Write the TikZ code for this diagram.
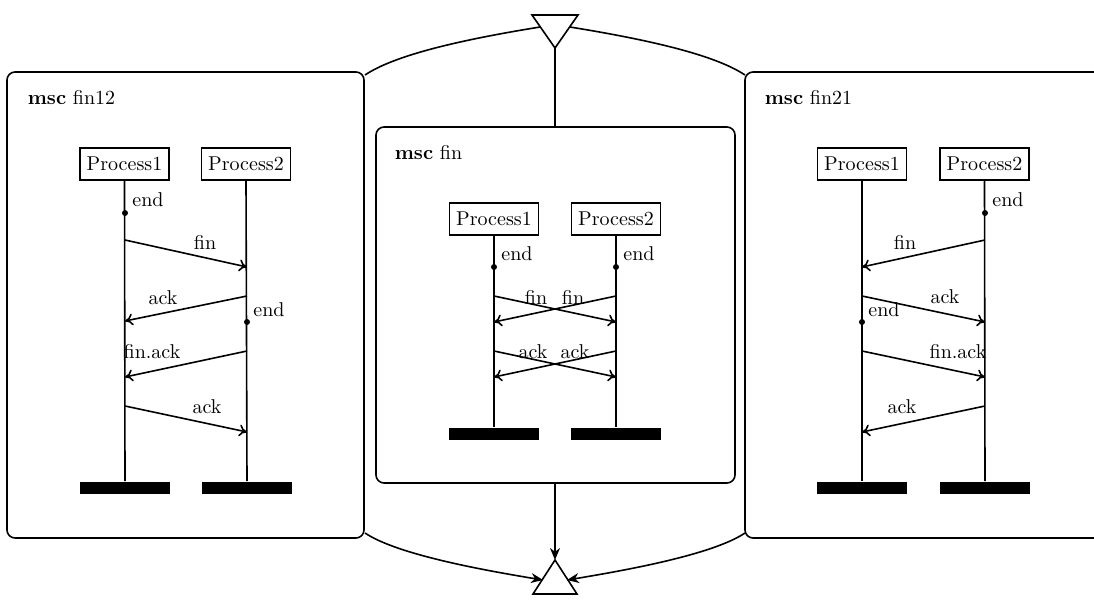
\documentclass[tikz,border=0pt]{standalone}
\usetikzlibrary{arrows.meta}
\begin{document}
\begin{tikzpicture}[x=0.5pt,y=-0.5pt, line width=0.8pt,
  proc/.style={draw, minimum width=44.5pt, minimum height=16pt, inner sep=1pt, line width=0.9pt},
  stopbar/.style={fill=black, minimum width=45pt, minimum height=6pt, inner sep=0pt},
  panel/.style={draw, rounded corners=4pt},
  msg/.style={-{To[length=4pt,width=6pt]}},
  lbl/.style={inner sep=0pt},
  evdot/.style={circle, fill=black, inner sep=0pt, minimum size=3pt},
  flow/.style={-{Stealth[length=6pt,width=5pt]}},
  ttl/.style={anchor=west, inner sep=0pt}]
\useasboundingbox (0,0) rectangle (1094,605);
\clip (0,0) rectangle (1094,605);

% ---------- panels ----------
\draw[panel] (7,72) rectangle (364,538);
\draw[panel] (376,127) rectangle (735,483);
\draw[panel] (745,72) rectangle (1120,538);
\coordinate (lpTR) at (365,75);
\coordinate (rpTL) at (745,75);
\coordinate (lpBR) at (365,533);
\coordinate (rpBL) at (745,533);
\coordinate (mpT) at (555,127);
\coordinate (mpB) at (555,483);

% ---------- triangles ----------
\coordinate (tL) at (532,15);
\coordinate (tR) at (578,15);
\coordinate (tA) at (555,48);
\draw (tL) -- (tR) -- (tA) -- cycle;
\coordinate (tLe) at (540,27);
\coordinate (tRe) at (570,27);
\coordinate (bA) at (555,560);
\coordinate (bL) at (533,594);
\coordinate (bR) at (577,594);
\draw (bL) -- (bR) -- (bA) -- cycle;
\coordinate (bLe) at (543,580);
\coordinate (bRe) at (567,580);

\draw (tA) -- (mpT);
\draw (tLe) .. controls (460,40) and (395,55) .. (lpTR);
\draw (tRe) .. controls (650,40) and (715,55) .. (rpTL);
\draw[flow] (mpB) -- (bA);
\draw[flow] (lpBR) .. controls (395,553) and (470,568) .. (bLe);
\draw[flow] (rpBL) .. controls (715,553) and (640,568) .. (bRe);

% ---------- left panel: fin12 ----------
\node[ttl] (t1) at (27,98) {\textbf{msc} fin12};
\node[proc] (a1) at (124.5,164) {Process1};
\node[proc] (a2) at (246,164) {Process2};
\node[stopbar] (as1) at (125,488) {};
\node[stopbar] (as2) at (247,488) {};
\draw (a1.south) -- (as1.north);
\draw (a2.south) -- (as2.north);
\node[evdot] (ae1) at (125,213) {};
\node[lbl] at (148,200) {end};
\coordinate (am1s) at (125,240); \coordinate (am1e) at (247,267);
\draw[msg] (am1s) -- (am1e);
\node[lbl] at (205,242) {fin};
\coordinate (am2s) at (247,296); \coordinate (am2e) at (125,321);
\draw[msg] (am2s) -- (am2e);
\node[lbl] at (163,298) {ack};
\node[evdot] (ae2) at (247,322) {};
\node[lbl] at (269,310) {end};
\coordinate (am3s) at (247,351); \coordinate (am3e) at (125,377);
\draw[msg] (am3s) -- (am3e);
\node[lbl] at (152,352) {fin.ack};
\coordinate (am4s) at (125,406); \coordinate (am4e) at (247,432);
\draw[msg] (am4s) -- (am4e);
\node[lbl] at (207,407) {ack};

% ---------- middle panel: fin ----------
\node[ttl] (t2) at (394,153) {\textbf{msc} fin};
\node[proc] (b1) at (494,219) {Process1};
\node[proc] (b2) at (616,219) {Process2};
\node[stopbar] (bs1) at (494,433.5) {};
\node[stopbar] (bs2) at (616,433.5) {};
\draw (b1.south) -- (bs1.north);
\draw (b2.south) -- (bs2.north);
\node[evdot] (be1) at (494,267) {};
\node[lbl] at (517,254) {end};
\node[evdot] (be2) at (616,267) {};
\node[lbl] at (639,254) {end};
\coordinate (bm1s) at (494,296); \coordinate (bm1e) at (616,322);
\coordinate (bm2s) at (616,296); \coordinate (bm2e) at (494,322);
\draw[msg] (bm1s) -- (bm1e);
\draw[msg] (bm2s) -- (bm2e);
\node[lbl] at (536,297) {fin};
\node[lbl] at (573,297) {fin};
\coordinate (bm3s) at (494,351); \coordinate (bm3e) at (616,377);
\coordinate (bm4s) at (616,351); \coordinate (bm4e) at (494,377);
\draw[msg] (bm3s) -- (bm3e);
\draw[msg] (bm4s) -- (bm4e);
\node[lbl] at (533,352) {ack};
\node[lbl] at (575,352) {ack};

% ---------- right panel: fin21 ----------
\node[ttl] (t3) at (764,98) {\textbf{msc} fin21};
\node[proc] (c1) at (862,164) {Process1};
\node[proc] (c2) at (984.5,164) {Process2};
\node[stopbar] (cs1) at (862,488) {};
\node[stopbar] (cs2) at (985,488) {};
\draw (c1.south) -- (cs1.north);
\draw (c2.south) -- (cs2.north);
\node[evdot] (ce1) at (985,213) {};
\node[lbl] at (1008,200) {end};
\coordinate (cm1s) at (985,240); \coordinate (cm1e) at (862,267);
\draw[msg] (cm1s) -- (cm1e);
\node[lbl] at (905,242) {fin};
\coordinate (cm2s) at (862,296); \coordinate (cm2e) at (985,322);
\draw[msg] (cm2s) -- (cm2e);
\node[lbl] at (945,297) {ack};
\node[evdot] (ce2) at (862,322) {};
\node[lbl] at (884,310) {end};
\coordinate (cm3s) at (862,351); \coordinate (cm3e) at (985,377);
\draw[msg] (cm3s) -- (cm3e);
\node[lbl] at (958,352) {fin.ack};
\coordinate (cm4s) at (985,406); \coordinate (cm4e) at (862,432);
\draw[msg] (cm4s) -- (cm4e);
\node[lbl] at (902,407) {ack};
\end{tikzpicture}
\end{document}
